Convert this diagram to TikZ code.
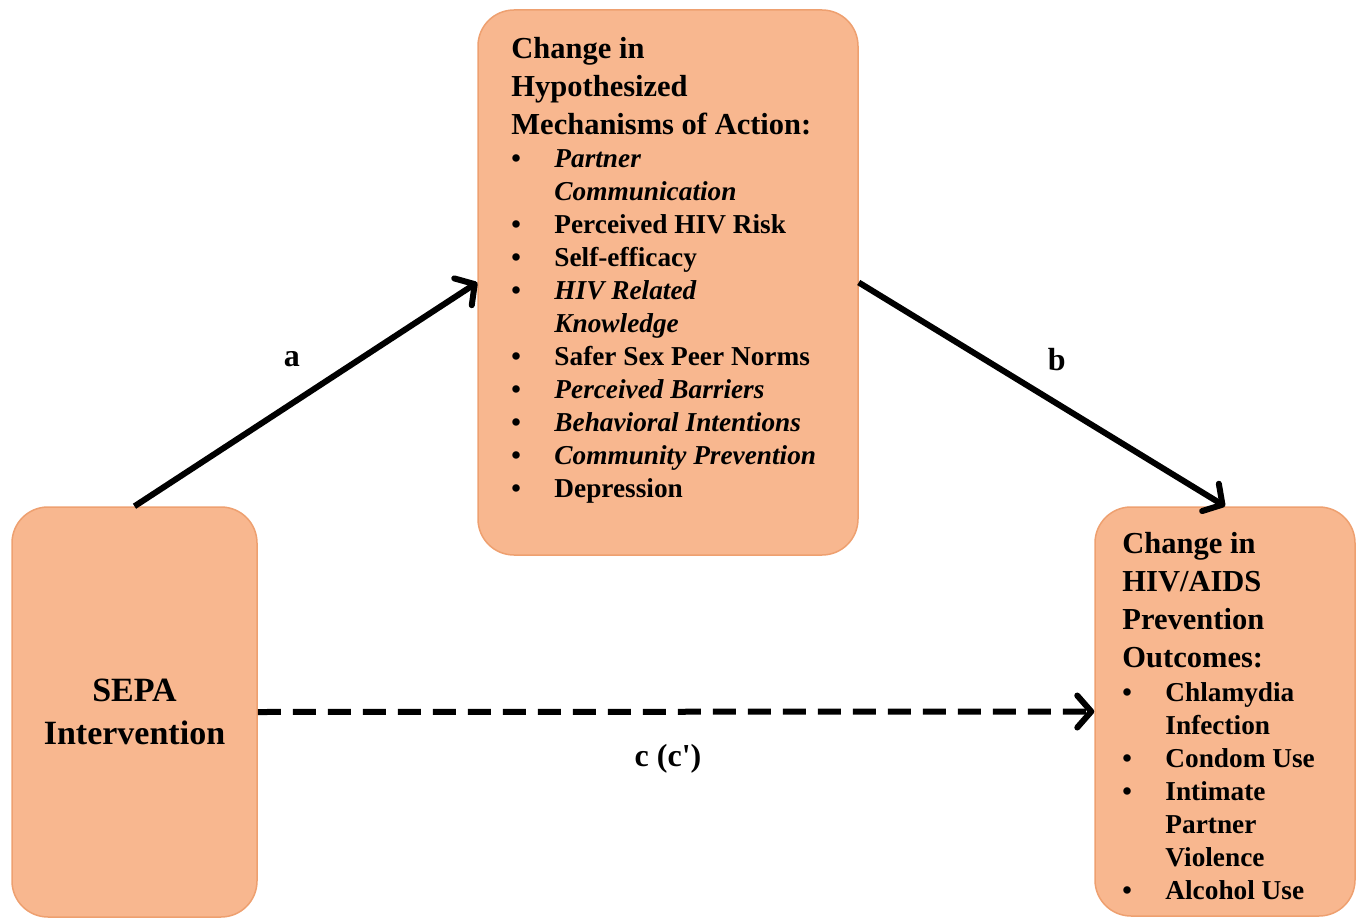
\documentclass[tikz,border=0pt]{standalone}
\usepackage{fontspec}
\setmainfont{Liberation Serif}
\usetikzlibrary{arrows.meta,positioning}
\definecolor{peach}{RGB}{248,183,143}
\definecolor{peachline}{RGB}{238,160,112}
\newcommand{\itm}[1]{\makebox[43pt][l]{\textbullet}#1}
\newcommand{\cnt}[1]{\hspace*{43pt}#1}

\begin{document}
\begin{tikzpicture}[x=1pt,y=-1pt,
                    box/.style={rectangle,rounded corners=36pt,draw=peachline,line width=1.5pt,fill=peach},
                    head/.style={anchor=north west,inner sep=0pt,align=left,font=\bfseries\fontsize{30.5}{38}\selectfont},
                    list/.style={anchor=north west,inner sep=0pt,align=left,font=\bfseries\fontsize{27.3}{33}\selectfont},
                    lbl/.style={font=\bfseries\fontsize{32}{38}\selectfont},
                    link/.style={line width=6pt,-{Straight Barb[length=14pt,width=32pt,line cap=round,line join=round]}}]

\useasboundingbox (0,0) rectangle (1360,920);

\node[box,minimum width=380pt,minimum height=545pt] (mech) at (668,282.5) {};
\node[box,minimum width=245pt,minimum height=410pt] (sepa) at (134.5,712) {};
\node[box,minimum width=260pt,minimum height=409pt] (outc) at (1225,711.5) {};

\node[align=center,font=\bfseries\fontsize{34}{43}\selectfont] (sepatext) at (sepa) {SEPA\\Intervention};

\node[head] (mechhead) at ([xshift=34pt,yshift=-28pt]mech.north west) {Change in\\Hypothesized\\Mechanisms of Action:};
\node[list] (mechlist) at ([yshift=-14pt]mechhead.south west)
  {\itm{\textit{Partner}}\\\cnt{\textit{Communication}}\\\itm{Perceived HIV Risk}\\\itm{Self-efficacy}\\
   \itm{\textit{HIV Related}}\\\cnt{\textit{Knowledge}}\\\itm{Safer Sex Peer Norms}\\\itm{\textit{Perceived Barriers}}\\
   \itm{\textit{Behavioral Intentions}}\\\itm{\textit{Community Prevention}}\\\itm{Depression}};

\node[head] (outchead) at ([xshift=28pt,yshift=-26pt]outc.north west) {Change in\\HIV/AIDS\\Prevention\\Outcomes:};
\node[list] (outclist) at ([yshift=-14pt]outchead.south west)
  {\itm{Chlamydia}\\\cnt{Infection}\\\itm{Condom Use}\\\itm{Intimate}\\\cnt{Partner}\\\cnt{Violence}\\\itm{Alcohol Use}};

\draw[link] (sepa.north) -- (mech.west) node[lbl,midway,shift={(-14pt,35pt)}] (la) {a};
\draw[link] (mech.east) -- (outc.north) node[lbl,midway,shift={(15pt,35pt)}] (lb) {b};
\draw[link,dash pattern=on 23pt off 12pt] (sepa.east) -- (outc.west) node[lbl,midway,shift={(-8pt,-47pt)}] (lc) {c (c\textquotesingle)};

\end{tikzpicture}
\end{document}
